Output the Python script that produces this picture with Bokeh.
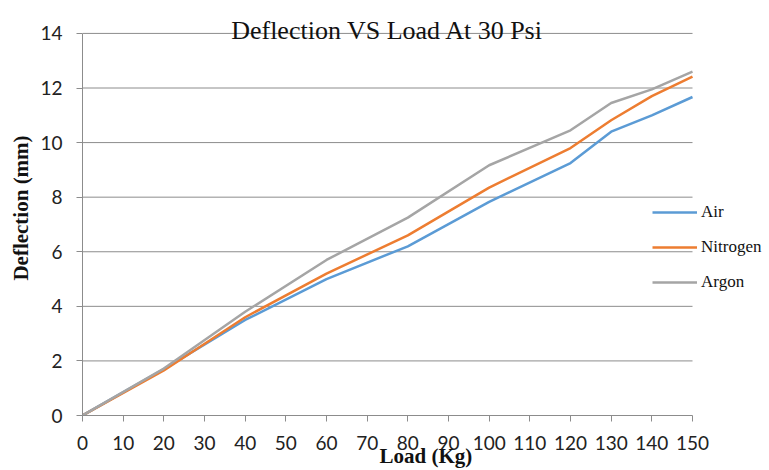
from bokeh.plotting import figure
from bokeh.models import Range1d, FixedTicker, Legend, LegendItem, Label
from bokeh.embed import file_html
from bokeh.resources import INLINE

load = [0, 20, 40, 60, 80, 100, 120, 130, 140, 150]
air = [0, 1.7, 3.5, 5.0, 6.2, 7.83, 9.25, 10.4, 11.0, 11.67]
nitrogen = [0, 1.65, 3.6, 5.2, 6.6, 8.35, 9.8, 10.82, 11.7, 12.42]
argon = [0, 1.72, 3.8, 5.7, 7.25, 9.17, 10.45, 11.45, 11.95, 12.6]
x_ticks = list(range(0, 151, 10))
y_ticks = list(range(0, 15, 2))
title_text = "Deflection VS Load At 30 Psi"

# layout (pixels)
W, H = 769, 470
left, bottom = 82, 54
plot_w, plot_h = 610, 383          # visible plotting area for the data ranges
frame_w, frame_h = W - left, H - bottom
x0, x1 = x_ticks[0], x_ticks[-1]
y0, y1 = y_ticks[0], y_ticks[-1]
x_end = x0 + (x1 - x0) * frame_w / plot_w
y_end = y0 + (y1 - y0) * frame_h / plot_h

p = figure(width=W, height=H, output_backend="svg", toolbar_location=None,
           x_range=Range1d(x0, x_end), y_range=Range1d(y0, y_end),
           min_border_left=left, min_border_right=0, min_border_top=0,
           min_border_bottom=bottom)
p.outline_line_color = None
p.background_fill_color = "white"
p.border_fill_color = "white"

gray = "#8c8c8c"
for ax in (p.xaxis[0], p.yaxis[0]):
    ax.axis_line_color = gray
    ax.major_tick_line_color = gray
    ax.minor_tick_line_color = None
    ax.major_tick_out = 6
    ax.major_tick_in = 0
    ax.major_label_text_font = "Lato"
    ax.major_label_text_font_size = "19px"
    ax.major_label_text_color = "#222222"
    ax.axis_label_text_font = "Liberation Serif"
    ax.axis_label_text_font_style = "bold"
    ax.axis_label_text_font_size = "21px"
    ax.axis_label_text_color = "#111111"

p.xaxis.bounds = (x0, x1)
p.yaxis.bounds = (y0, y1)
p.xaxis.ticker = FixedTicker(ticks=x_ticks)
p.yaxis.ticker = FixedTicker(ticks=y_ticks)
p.xaxis.axis_label = "Load (Kg)"
p.yaxis.axis_label = "Deflection (mm)"
p.xaxis.major_label_standoff = 14
p.yaxis.major_label_standoff = 14
p.xaxis.axis_label_standoff = -9
p.yaxis.axis_label_standoff = 4

p.xgrid.grid_line_color = None
p.ygrid.grid_line_color = None
gy = y_ticks[1:]
p.segment(x0=[x0] * len(gy), y0=gy, x1=[x1] * len(gy), y1=gy,
          line_color=gray, line_width=1)

r_air = p.line(load, air, line_color="#5B9BD5", line_width=2.5)
r_n2 = p.line(load, nitrogen, line_color="#ED7D31", line_width=2.5)
r_ar = p.line(load, argon, line_color="#A5A5A5", line_width=2.5)

legend = Legend(items=[LegendItem(label="Air", renderers=[r_air]),
                       LegendItem(label="Nitrogen", renderers=[r_n2]),
                       LegendItem(label="Argon", renderers=[r_ar])],
                location=(570, 123), orientation="vertical",
                glyph_width=45, glyph_height=20, label_height=20,
                label_standoff=4, spacing=15, padding=0, margin=0,
                label_text_font="Liberation Serif", label_text_font_size="17px",
                label_text_color="#111111",
                background_fill_alpha=0, border_line_color=None)
p.add_layout(legend, "center")

title = Label(x=(x0 + x1) / 2, y=14.11, text=title_text, text_align="center",
              text_baseline="alphabetic", text_font="Liberation Serif",
              text_font_size="26px", text_color="#111111")
p.add_layout(title)

open("out.html", "w").write(file_html(p, INLINE))
